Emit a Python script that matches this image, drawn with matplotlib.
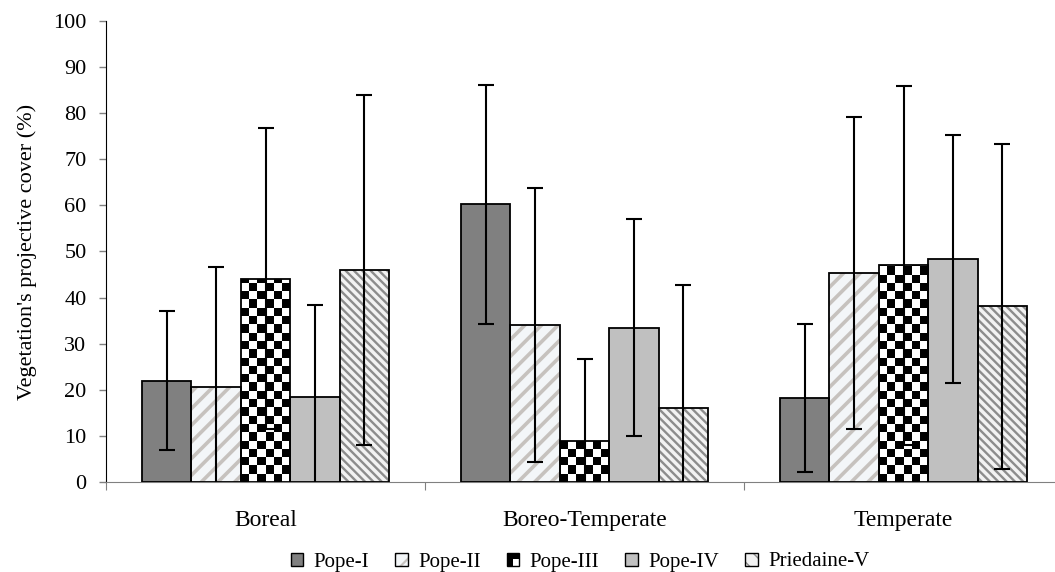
import numpy as np
import matplotlib
matplotlib.use("Agg")
import matplotlib.pyplot as plt
from matplotlib.patches import Rectangle
from matplotlib.collections import PatchCollection
from matplotlib.legend_handler import HandlerBase

plt.rcParams['font.family'] = ['Liberation Serif', 'DejaVu Serif']

# data
groups = ["Boreal", "Boreo-Temperate", "Temperate"]
series = ["Pope-I", "Pope-II", "Pope-III", "Pope-IV", "Priedaine-V"]
pope_i = [22.0, 60.2, 18.2]
pope_i_err = [15.0, 26.0, 16.0]
pope_ii = [20.5, 34.1, 45.3]
pope_ii_err = [26.1, 29.7, 33.9]
pope_iii = [44.1, 9.0, 47.0]
pope_iii_err = [32.7, 17.6, 38.9]
pope_iv = [18.4, 33.5, 48.4]
pope_iv_err = [20.1, 23.6, 26.9]
priedaine_v = [46.0, 16.1, 38.1]
priedaine_v_err = [38.0, 26.6, 35.2]

values = [pope_i, pope_ii, pope_iii, pope_iv, priedaine_v]
errors = [pope_i_err, pope_ii_err, pope_iii_err, pope_iv_err, priedaine_v_err]

# style per series: face, hatch, hatch colour, hatch lw, checker
styles = [
    dict(face="#808080", hatch=None, hc=None, hlw=1.0, checker=False),
    dict(face="#f3f6f8", hatch="//", hc="#c6c2be", hlw=2.6, checker=False),
    dict(face="white", hatch=None, hc=None, hlw=1.0, checker=True),
    dict(face="#c0c0c0", hatch=None, hc=None, hlw=1.0, checker=False),
    dict(face="#f2f2f2", hatch="\\\\\\\\", hc="#8c8c8c", hlw=1.7, checker=False),
]

fig = plt.figure(figsize=(10.55, 5.72), dpi=100)
ax = fig.add_axes([106/1055, 90/572, 957/1055, 461/572])

x = np.arange(len(groups)) + 0.5
w = 0.155


def hatched_bar(xpos, h, st):
    with plt.rc_context({'hatch.linewidth': st['hlw']}):
        if st['hatch']:
            b = ax.bar(xpos, h, w, color=st['face'], edgecolor=st['hc'],
                       hatch=st['hatch'], linewidth=0, zorder=2)
            for p in b:
                if hasattr(p, 'set_hatch_linewidth'):
                    p.set_hatch_linewidth(st['hlw'])
        else:
            b = ax.bar(xpos, h, w, color=st['face'], linewidth=0, zorder=2)
    return b


for i, (vals, errs, st) in enumerate(zip(values, errors, styles)):
    xpos = x + (i - 2) * w
    bars = hatched_bar(xpos, vals, st)
    if st['checker']:
        cell_x = w / 6
        cell_y = 1.8
        for p in bars:
            x0 = p.get_x()
            ny = int(np.ceil(p.get_height() / cell_y)) + 1
            cells = [Rectangle((x0 + c * cell_x, r * cell_y), cell_x, cell_y)
                     for r in range(ny) for c in range(6) if (r + c) % 2 == 0]
            pc = PatchCollection(cells, facecolor="black", edgecolor="none",
                                 antialiased=False, zorder=2.5)
            ax.add_collection(pc)
            pc.set_clip_path(p)
    ax.bar(xpos, vals, w, fill=False, edgecolor="black", linewidth=1.3, zorder=3)
    ax.errorbar(xpos, vals, yerr=errs, fmt="none", ecolor="black",
                elinewidth=1.5, capsize=5.5, capthick=1.5, zorder=4)

ax.set_xlim(0, 3)
ax.set_ylim(0, 100)
ax.set_yticks(np.arange(0, 101, 10))
ax.tick_params(axis="y", direction="out", length=5, width=1, color="#808080",
               labelsize=16, pad=9)
ax.set_xticks([0, 1, 2, 3])
ax.set_xticklabels([])
ax.set_xticks(x, minor=True)
ax.set_xticklabels(groups, minor=True, fontsize=17)
ax.tick_params(axis="x", which="major", direction="out", length=6, color="#808080")
ax.tick_params(axis="x", which="minor", length=0, pad=20)
for s in ["top", "right"]:
    ax.spines[s].set_visible(False)
ax.spines["left"].set_color("black")
ax.spines["bottom"].set_color("#808080")
ax.set_ylabel("Vegetation's projective cover (%)", fontsize=16, labelpad=12)


class Swatch(HandlerBase):
    def __init__(self, st):
        super().__init__()
        self.st = st

    def create_artists(self, legend, orig_handle, xdescent, ydescent,
                       width, height, fontsize, trans):
        st = self.st
        x0, y0 = -xdescent, -ydescent
        arts = []
        if st['checker']:
            hw, hh = width / 2, height / 2
            for (ci, cj, c) in [(0, 0, 'black'), (1, 0, 'white'),
                                (0, 1, 'black'), (1, 1, 'black')]:
                arts.append(Rectangle((x0 + ci * hw, y0 + cj * hh), hw, hh,
                                      facecolor=c, edgecolor='none', transform=trans))
        elif st['hatch']:
            with plt.rc_context({'hatch.linewidth': st['hlw'] * 0.6}):
                r = Rectangle((x0, y0), width, height, facecolor=st['face'],
                              edgecolor=st['hc'], hatch=st['hatch'][:2],
                              linewidth=0, transform=trans)
            arts.append(r)
        else:
            arts.append(Rectangle((x0, y0), width, height, facecolor=st['face'],
                                  edgecolor='none', transform=trans))
        arts.append(Rectangle((x0, y0), width, height, fill=False,
                              edgecolor='black', linewidth=1.0, transform=trans))
        return arts


proxies = [Rectangle((0, 0), 1, 1) for _ in series]
hmap = {p: Swatch(st) for p, st in zip(proxies, styles)}
fig.legend(proxies, series, handler_map=hmap, loc="center",
           bbox_to_anchor=(580/1055, 1 - 562/572), ncol=5, frameon=False,
           fontsize=15, handlelength=0.6, handleheight=0.6,
           handletextpad=0.5, columnspacing=1.25)

fig.savefig("out.png", dpi=100)
